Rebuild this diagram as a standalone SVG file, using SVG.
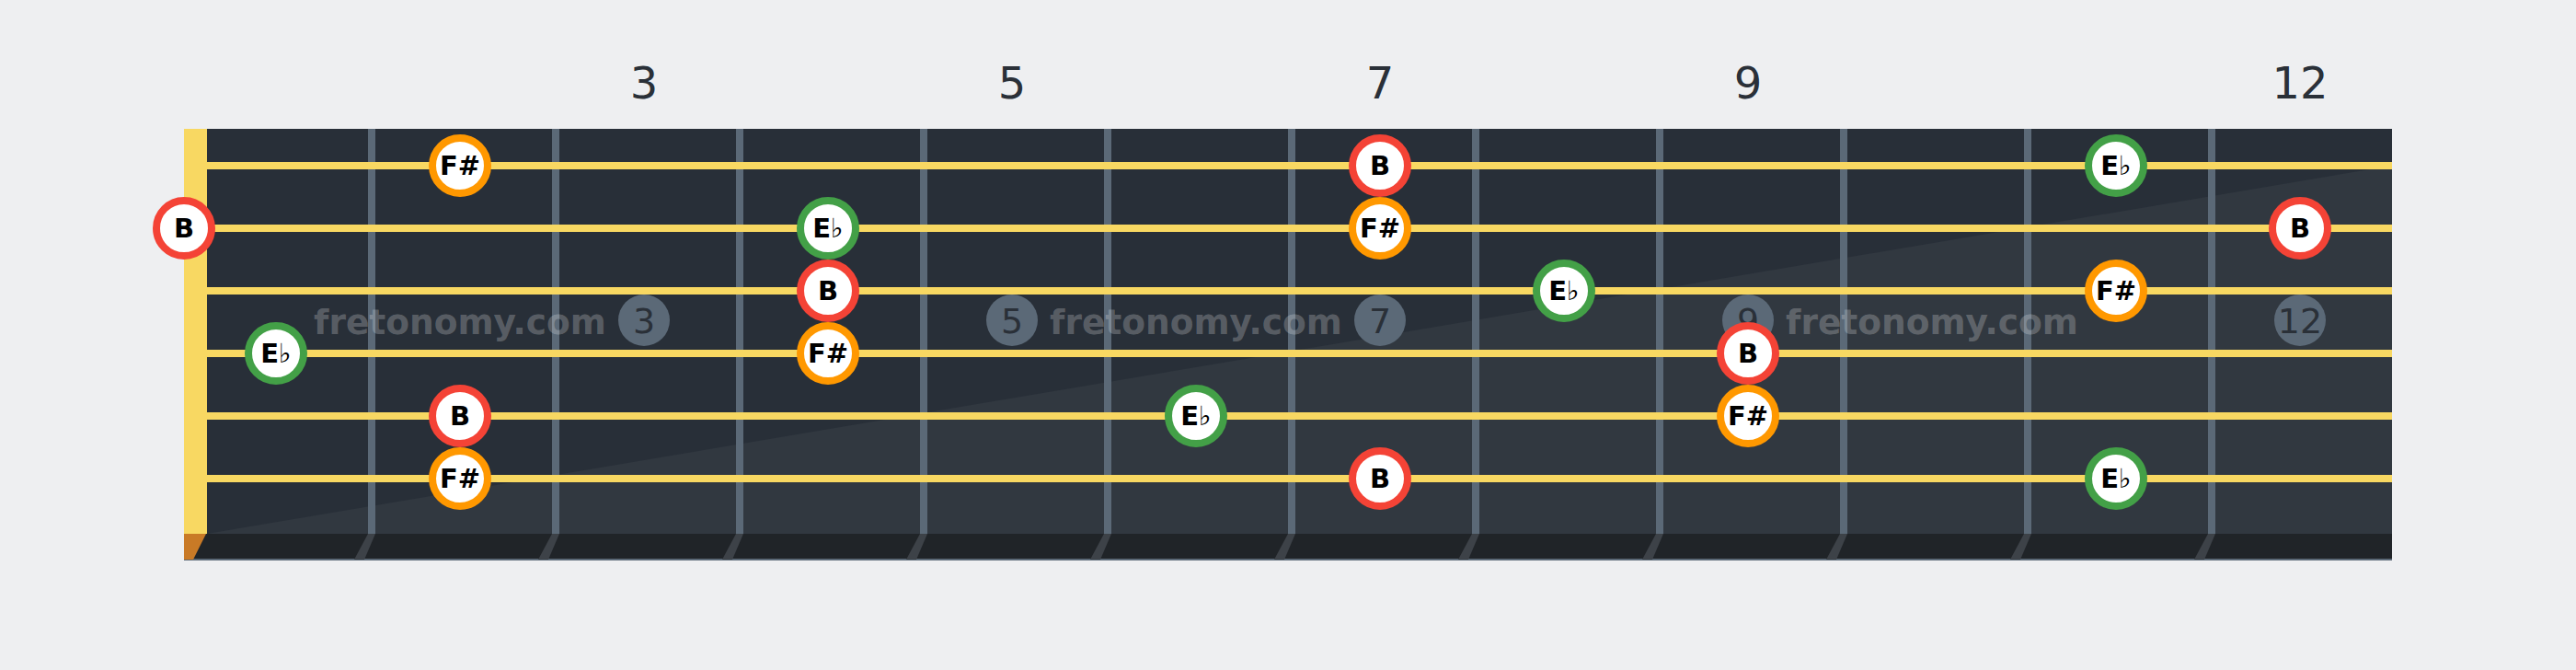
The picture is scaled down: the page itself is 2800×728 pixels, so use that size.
<svg xmlns="http://www.w3.org/2000/svg" width="2800" height="728" viewBox="0 0 2800 728">
<style>
.fretnum{font-family:"DejaVu Sans",sans-serif;font-size:48px;fill:#2a3038;text-anchor:middle}
.inlay circle{fill:#5b6977}
.inlay text{font-family:"DejaVu Sans",sans-serif;font-size:38px;fill:#2a3038;text-anchor:middle}
.wm{font-family:"DejaVu Sans",sans-serif;font-weight:bold;font-size:37.5px;fill:#ffffff;fill-opacity:0.24;text-anchor:middle}
.fret{fill:#5b6977}
.fretsh{fill:#3d4248}
.string{stroke:#f8d862;stroke-width:8}
.note circle{fill:#ffffff;stroke-width:8}
.note text{font-family:"DejaVu Sans",sans-serif;font-weight:bold;font-size:29px;fill:#000000;text-anchor:middle}
.note tspan{font-weight:normal}
.r circle{stroke:#f44336}
.o circle{stroke:#ff9800}
.g circle{stroke:#43a047}
</style>
<rect width="2800" height="728" fill="#eeeff1"/>
<g id="board">
<rect x="225" y="140" width="2375" height="440" fill="#282f38"/>
<polygon points="225,580 2600,180 2600,580" fill="#313840"/>
<rect x="200" y="580" width="2400" height="28" fill="#202428"/>
<rect x="200" y="607" width="2400" height="2" fill="#5b6977"/>
<rect x="200" y="140" width="25" height="440" fill="#f8d862"/>
<polygon points="200,580 224,580 210,608 200,608" fill="#c97a26"/>
</g>
<g id="frets">
<rect class="fret" x="400" y="140" width="8" height="440"/>
<rect class="fret" x="600" y="140" width="8" height="440"/>
<rect class="fret" x="800" y="140" width="8" height="440"/>
<rect class="fret" x="1000" y="140" width="8" height="440"/>
<rect class="fret" x="1200" y="140" width="8" height="440"/>
<rect class="fret" x="1400" y="140" width="8" height="440"/>
<rect class="fret" x="1600" y="140" width="8" height="440"/>
<rect class="fret" x="1800" y="140" width="8" height="440"/>
<rect class="fret" x="2000" y="140" width="8" height="440"/>
<rect class="fret" x="2200" y="140" width="8" height="440"/>
<rect class="fret" x="2400" y="140" width="8" height="440"/>
<polygon class="fretsh" points="400,580 408,580 396,608 385,608"/>
<polygon class="fretsh" points="600,580 608,580 596,608 585,608"/>
<polygon class="fretsh" points="800,580 808,580 796,608 785,608"/>
<polygon class="fretsh" points="1000,580 1008,580 996,608 985,608"/>
<polygon class="fretsh" points="1200,580 1208,580 1196,608 1185,608"/>
<polygon class="fretsh" points="1400,580 1408,580 1396,608 1385,608"/>
<polygon class="fretsh" points="1600,580 1608,580 1596,608 1585,608"/>
<polygon class="fretsh" points="1800,580 1808,580 1796,608 1785,608"/>
<polygon class="fretsh" points="2000,580 2008,580 1996,608 1985,608"/>
<polygon class="fretsh" points="2200,580 2208,580 2196,608 2185,608"/>
<polygon class="fretsh" points="2400,580 2408,580 2396,608 2385,608"/>
</g>
<g id="inlays" class="inlay">
<circle cx="700" cy="348" r="28"/><text x="700" y="362">3</text>
<circle cx="1100" cy="348" r="28"/><text x="1100" y="362">5</text>
<circle cx="1500" cy="348" r="28"/><text x="1500" y="362">7</text>
<circle cx="1900" cy="348" r="28"/><text x="1900" y="362">9</text>
<circle cx="2500" cy="348" r="28"/><text x="2500" y="362">12</text>
</g>
<g id="strings">
<line class="string" x1="225" y1="180" x2="2600" y2="180"/>
<line class="string" x1="225" y1="248" x2="2600" y2="248"/>
<line class="string" x1="225" y1="316" x2="2600" y2="316"/>
<line class="string" x1="225" y1="384" x2="2600" y2="384"/>
<line class="string" x1="225" y1="452" x2="2600" y2="452"/>
<line class="string" x1="225" y1="520" x2="2600" y2="520"/>
</g>
<g id="watermark">
<text class="wm" x="500" y="363">fretonomy.com</text>
<text class="wm" x="1300" y="363">fretonomy.com</text>
<text class="wm" x="2100" y="363">fretonomy.com</text>
</g>
<g id="fret-numbers">
<text class="fretnum" x="700" y="107">3</text>
<text class="fretnum" x="1100" y="107">5</text>
<text class="fretnum" x="1500" y="107">7</text>
<text class="fretnum" x="1900" y="107">9</text>
<text class="fretnum" x="2500" y="107">12</text>
</g>
<g id="notes">
<g id="n1-2" class="note o"><circle cx="500" cy="180" r="30"/><text x="500" y="190">F#</text></g>
<g id="n1-7" class="note r"><circle cx="1500" cy="180" r="30"/><text x="1500" y="190">B</text></g>
<g id="n1-11" class="note g"><circle cx="2300" cy="180" r="30"/><text x="2300" y="190">E<tspan>♭</tspan></text></g>
<g id="n2-0" class="note r"><circle cx="200" cy="248" r="30"/><text x="200" y="258">B</text></g>
<g id="n2-4" class="note g"><circle cx="900" cy="248" r="30"/><text x="900" y="258">E<tspan>♭</tspan></text></g>
<g id="n2-7" class="note o"><circle cx="1500" cy="248" r="30"/><text x="1500" y="258">F#</text></g>
<g id="n2-12" class="note r"><circle cx="2500" cy="248" r="30"/><text x="2500" y="258">B</text></g>
<g id="n3-4" class="note r"><circle cx="900" cy="316" r="30"/><text x="900" y="326">B</text></g>
<g id="n3-8" class="note g"><circle cx="1700" cy="316" r="30"/><text x="1700" y="326">E<tspan>♭</tspan></text></g>
<g id="n3-11" class="note o"><circle cx="2300" cy="316" r="30"/><text x="2300" y="326">F#</text></g>
<g id="n4-1" class="note g"><circle cx="300" cy="384" r="30"/><text x="300" y="394">E<tspan>♭</tspan></text></g>
<g id="n4-4" class="note o"><circle cx="900" cy="384" r="30"/><text x="900" y="394">F#</text></g>
<g id="n4-9" class="note r"><circle cx="1900" cy="384" r="30"/><text x="1900" y="394">B</text></g>
<g id="n5-2" class="note r"><circle cx="500" cy="452" r="30"/><text x="500" y="462">B</text></g>
<g id="n5-6" class="note g"><circle cx="1300" cy="452" r="30"/><text x="1300" y="462">E<tspan>♭</tspan></text></g>
<g id="n5-9" class="note o"><circle cx="1900" cy="452" r="30"/><text x="1900" y="462">F#</text></g>
<g id="n6-2" class="note o"><circle cx="500" cy="520" r="30"/><text x="500" y="530">F#</text></g>
<g id="n6-7" class="note r"><circle cx="1500" cy="520" r="30"/><text x="1500" y="530">B</text></g>
<g id="n6-11" class="note g"><circle cx="2300" cy="520" r="30"/><text x="2300" y="530">E<tspan>♭</tspan></text></g>
</g>
</svg>
